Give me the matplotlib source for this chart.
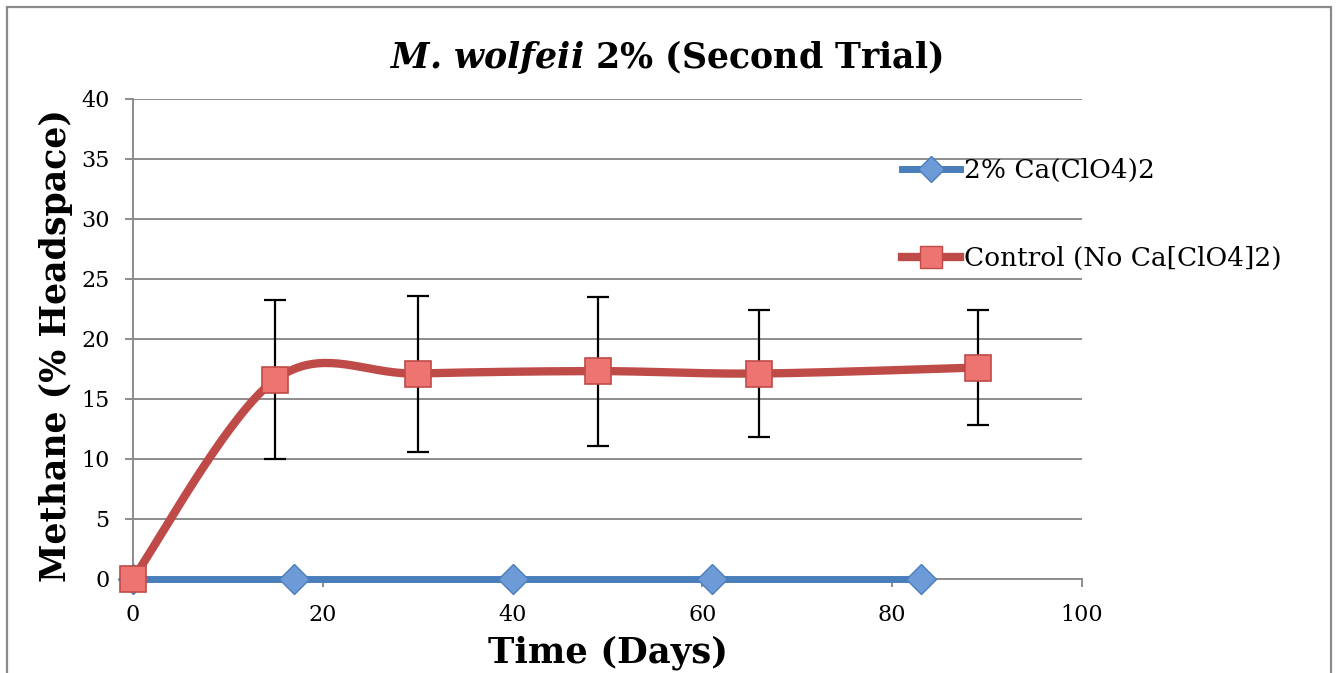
import numpy as np
import matplotlib
matplotlib.use("Agg")
import matplotlib.pyplot as plt
from matplotlib.patches import Rectangle
from matplotlib.lines import Line2D

# methane readings (% headspace) vs incubation time (days)
perc_days = [0, 17, 40, 61, 83]
perc_methane = [0, 0, 0, 0, 0]

ctrl_days = [0, 15, 30, 49, 66, 89]
ctrl_methane = [0, 16.6, 17.1, 17.3, 17.1, 17.6]
ctrl_err = [0, 6.6, 6.5, 6.2, 5.3, 4.8]

x_ticks = [0, 20, 40, 60, 80, 100]
y_ticks = [0, 5, 10, 15, 20, 25, 30, 35, 40]

BLUE = "#4a7ebb"
RED = "#be4b48"
GRID = "#8c8c8c"
FONT = "DejaVu Serif"

plt.rcParams["font.family"] = FONT
plt.rcParams["mathtext.fontset"] = "dejavuserif"


def smooth(ax, xs, ys, n=40):
    # excel-style smoothed line: cardinal spline through the points in screen space
    pts = ax.transData.transform(np.column_stack([xs, ys]))
    out = [pts[0]]
    for i in range(len(pts) - 1):
        p0 = pts[i - 1] if i > 0 else pts[i]
        p1 = pts[i]
        p2 = pts[i + 1]
        p3 = pts[i + 2] if i + 2 < len(pts) else pts[i + 1]
        c1 = p1 + (p2 - p0) / 6.0
        c2 = p2 - (p3 - p1) / 6.0
        t = np.linspace(0, 1, n)[1:, None]
        seg = ((1 - t) ** 3) * p1 + 3 * ((1 - t) ** 2) * t * c1 + 3 * (1 - t) * t ** 2 * c2 + t ** 3 * p2
        out.extend(seg)
    out = np.array(out)
    return ax.transData.inverted().transform(out)


fig = plt.figure(figsize=(13.38, 6.73), dpi=100)
ax = fig.add_axes([0.0994, 0.1401, 0.7093, 0.7132])
ax.set_xlim(0, 100)
ax.set_ylim(0, 40)

# chart area border
fig.patches.append(Rectangle((7 / 1338, -0.05), 1324 / 1338, 1.05 - 7 / 673,
                             transform=fig.transFigure, fill=False,
                             edgecolor="#8a8a8a", linewidth=1.6))

ax.set_xticks(x_ticks)
ax.set_yticks(y_ticks)
ax.yaxis.grid(True, color=GRID, linewidth=1.4)
ax.set_axisbelow(True)
for side in ["top", "right"]:
    ax.spines[side].set_visible(False)
for side in ["left", "bottom"]:
    ax.spines[side].set_color(GRID)
    ax.spines[side].set_linewidth(1.4)
ax.tick_params(axis="both", colors=GRID, width=1.4, length=6, labelsize=16,
               labelcolor="black")
ax.tick_params(axis="y", pad=11)
ax.tick_params(axis="x", pad=12)

# blue series
ax.plot(perc_days, perc_methane, color=BLUE, linewidth=5, zorder=3,
        solid_capstyle="round", clip_on=False)
ax.plot(perc_days, perc_methane, linestyle="none", marker="D", markersize=15,
        markerfacecolor="#6c9bd8", markeredgecolor=BLUE, markeredgewidth=1,
        zorder=4, clip_on=False)

# control series with error bars
cx = [d for d, e in zip(ctrl_days, ctrl_err) if e > 0]
cy = [m for m, e in zip(ctrl_methane, ctrl_err) if e > 0]
ce = [e for e in ctrl_err if e > 0]
ax.errorbar(cx, cy, yerr=ce, fmt="none", ecolor="black", elinewidth=1.6,
            capsize=8, capthick=1.6, zorder=3.5)
curve = smooth(ax, ctrl_days, ctrl_methane)
ax.plot(curve[:, 0], curve[:, 1], color=RED, linewidth=6, zorder=5,
        solid_capstyle="round", clip_on=False)
ax.plot(ctrl_days, ctrl_methane, linestyle="none", marker="s", markersize=19,
        markerfacecolor="#ee7472", markeredgecolor=RED, markeredgewidth=1.2,
        zorder=6, clip_on=False)

fig.text(0.498, 1 - 57 / 673, r"$\mathbfit{M.}\,\mathbfit{wolfeii}$ 2% (Second Trial)",
         fontsize=25, fontweight="bold", ha="center", va="center")
ax.set_xlabel("Time (Days)", fontsize=25.5, fontweight="bold", labelpad=7)
ax.set_ylabel("Methane (% Headspace)", fontsize=25, fontweight="bold",
              labelpad=10)
ax.yaxis.set_label_coords(-0.063, 0.485)

handles = [
    Line2D([], [], color=BLUE, linewidth=5, marker="D", markersize=13,
           markerfacecolor="#6c9bd8", markeredgecolor=BLUE),
    Line2D([], [], color=RED, linewidth=6, marker="s", markersize=16,
           markerfacecolor="#ee7472", markeredgecolor=RED),
]
fig.legend(handles, ["2% Ca(ClO4)2", "Control (No Ca[ClO4]2)"],
           loc="upper left", bbox_to_anchor=(902 / 1338, 1 - 158 / 673),
           frameon=False, fontsize=19, labelspacing=2.4, handlelength=2.2,
           handletextpad=0.15, borderpad=0, borderaxespad=0)

fig.savefig("out.png", dpi=100)
